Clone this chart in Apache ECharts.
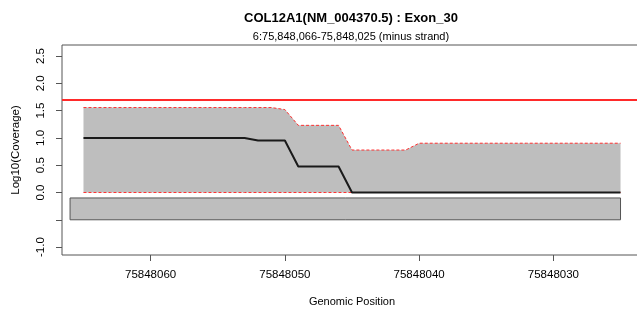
<!DOCTYPE html>
<html>
<head>
<meta charset="utf-8">
<script src="https://cdn.jsdelivr.net/npm/echarts@6/dist/echarts.min.js"></script>
<style>
  html, body { margin: 0; padding: 0; background: #fff; }
  #main { width: 637px; height: 309px; }
</style>
</head>
<body>
<div id="main"></div>
<script>
// genomic positions covered by the exon (minus strand, read right to left)
var positions = [
  75848065, 75848064, 75848063, 75848062, 75848061, 75848060, 75848059, 75848058,
  75848057, 75848056, 75848055, 75848054, 75848053, 75848052, 75848051, 75848050,
  75848049, 75848048, 75848047, 75848046, 75848045, 75848044, 75848043, 75848042,
  75848041, 75848040, 75848039, 75848038, 75848037, 75848036, 75848035, 75848034,
  75848033, 75848032, 75848031, 75848030, 75848029, 75848028, 75848027, 75848026,
  75848025
];
// log10 coverage: max, mean, min
var covMax = [
  1.556, 1.556, 1.556, 1.556, 1.556, 1.556, 1.556, 1.556,
  1.556, 1.556, 1.556, 1.556, 1.556, 1.556, 1.556, 1.519,
  1.230, 1.230, 1.230, 1.230, 0.778, 0.778, 0.778, 0.778,
  0.778, 0.903, 0.903, 0.903, 0.903, 0.903, 0.903, 0.903,
  0.903, 0.903, 0.903, 0.903, 0.903, 0.903, 0.903, 0.903,
  0.903
];
var covMean = [
  1.000, 1.000, 1.000, 1.000, 1.000, 1.000, 1.000, 1.000,
  1.000, 1.000, 1.000, 1.000, 1.000, 0.954, 0.954, 0.954,
  0.477, 0.477, 0.477, 0.477, 0, 0, 0, 0,
  0, 0, 0, 0, 0, 0, 0, 0,
  0, 0, 0, 0, 0, 0, 0, 0,
  0
];
var covMin = [
  0, 0, 0, 0, 0, 0, 0, 0,
  0, 0, 0, 0, 0, 0, 0, 0,
  0, 0, 0, 0, 0, 0, 0, 0,
  0, 0, 0, 0, 0, 0, 0, 0,
  0, 0, 0, 0, 0, 0, 0, 0,
  0
];
var threshold = 1.699; // log10(50)
// exon box: [start, end, top, bottom]
var exonBox = [[75848066, 75848025, -0.1, -0.5]];
var xTicks = [75848060, 75848050, 75848040, 75848030];
var yTicks = [-1.0, -0.5, 0.0, 0.5, 1.0, 1.5, 2.0, 2.5];
var yLabels = [-1.0, 0.0, 0.5, 1.0, 1.5, 2.0, 2.5];

function pairs(vals) {
  return positions.map(function (p, i) { return [p, vals[i]]; });
}

var font = 'Liberation Sans, Arial, Helvetica, sans-serif';
var myChart = echarts.init(document.getElementById('main'));

var option = {
  animation: false,
  title: [
    {
      text: 'COL12A1(NM_004370.5) : Exon_30',
      left: 351, top: 18.7, padding: 0,
      textAlign: 'center', textVerticalAlign: 'middle',
      textStyle: { fontFamily: font, fontSize: 13, fontWeight: 'bold', color: '#000' }
    },
    {
      text: '6:75,848,066-75,848,025 (minus strand)',
      left: 351, top: 36.7, padding: 0,
      textAlign: 'center', textVerticalAlign: 'middle',
      textStyle: { fontFamily: font, fontSize: 11, fontWeight: 'normal', color: '#000' }
    }
  ],
  grid: {
    left: 62, top: 45, right: -5, bottom: 54,
    outerBoundsMode: 'none',
    show: true, borderColor: '#555', borderWidth: 1, backgroundColor: 'transparent'
  },
  xAxis: {
    type: 'value',
    inverse: true,
    min: 75848023.4,
    max: 75848066.6,
    name: 'Genomic Position',
    nameLocation: 'middle',
    nameGap: 41,
    nameTextStyle: { fontFamily: font, fontSize: 11, color: '#000' },
    axisLine: { show: false, onZero: false },
    splitLine: { show: false },
    axisTick: { show: true, length: 6, customValues: xTicks, lineStyle: { color: '#555' } },
    axisLabel: {
      customValues: xTicks, margin: 14,
      fontFamily: font, fontSize: 11.5, color: '#000',
      formatter: function (v) { return String(v); }
    }
  },
  yAxis: {
    type: 'value',
    min: -1.145,
    max: 2.702,
    name: 'Log10(Coverage)',
    nameLocation: 'middle',
    nameRotate: 90,
    nameGap: 40,
    nameTextStyle: { fontFamily: font, fontSize: 11.5, color: '#000' },
    axisLine: { show: false, onZero: false },
    splitLine: { show: false },
    axisTick: { show: true, length: 6, customValues: yTicks, lineStyle: { color: '#555' } },
    axisLabel: {
      customValues: yLabels, rotate: 90, margin: 15,
      fontFamily: font, fontSize: 11.5, color: '#000',
      formatter: function (v) { return v.toFixed(1); }
    }
  },
  series: [
    {
      type: 'custom',
      z: 1,
      renderItem: function (params, api) {
        var p1 = api.coord([api.value(0), api.value(2)]);
        var p2 = api.coord([api.value(1), api.value(3)]);
        return {
          type: 'rect',
          shape: {
            x: Math.min(p1[0], p2[0]), y: Math.min(p1[1], p2[1]),
            width: Math.abs(p2[0] - p1[0]), height: Math.abs(p2[1] - p1[1])
          },
          style: { fill: '#bebebe', stroke: '#555', lineWidth: 1 }
        };
      },
      encode: { x: [0, 1], y: [2, 3] },
      data: exonBox
    },
    {
      // shaded range between min and max coverage (min is the zero baseline here)
      type: 'line', z: 2,
      data: pairs(covMax), showSymbol: false, symbol: 'none',
      lineStyle: { color: '#ff3030', width: 1, type: [3, 2] },
      areaStyle: { color: '#bebebe', opacity: 1, origin: 'auto' }
    },
    {
      type: 'line', z: 3,
      data: pairs(covMin), showSymbol: false, symbol: 'none',
      lineStyle: { color: '#ff3030', width: 1, type: [3, 2] }
    },
    {
      type: 'line', z: 4,
      data: pairs(covMean), showSymbol: false, symbol: 'none',
      lineStyle: { color: '#1a1a1a', width: 2 },
      markLine: {
        silent: true, symbol: 'none', label: { show: false },
        lineStyle: { color: '#ff2a2a', width: 2, type: 'solid' },
        data: [{ yAxis: threshold }]
      }
    }
  ]
};
myChart.setOption(option);
</script>
</body>
</html>
